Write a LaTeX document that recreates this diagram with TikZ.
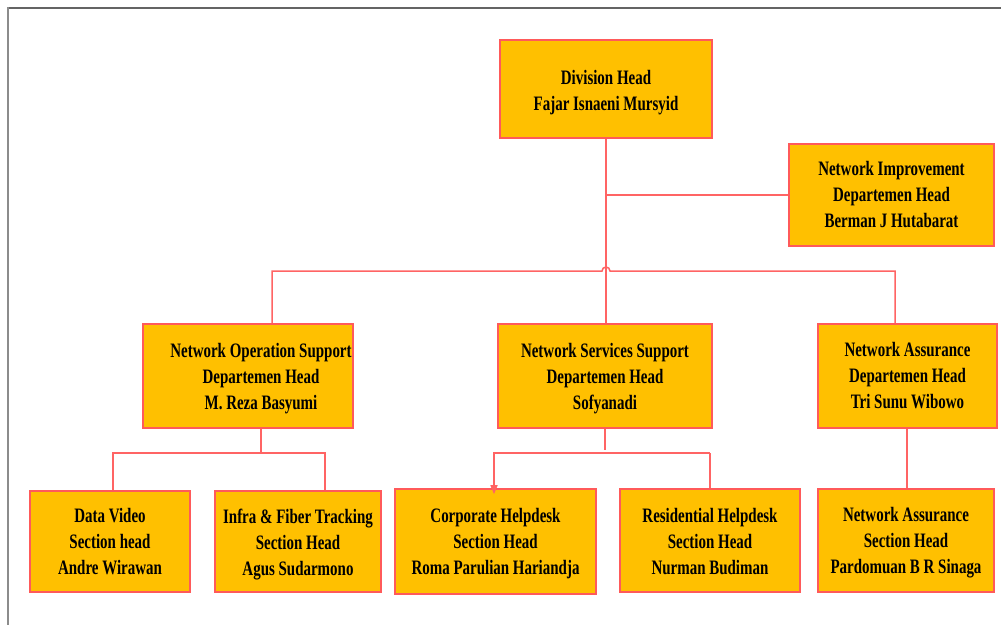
\documentclass[tikz,border=0pt]{standalone}
\usepackage{fontspec}
\setmainfont{Liberation Serif}[FakeStretch=0.73]
\usetikzlibrary{arrows.meta}
\definecolor{boxfill}{HTML}{FFC000}
\definecolor{boxline}{HTML}{FF5A5A}
\definecolor{linkline}{HTML}{FF6464}
\definecolor{frametop}{HTML}{646464}
\definecolor{frameleft}{HTML}{8C8C8C}

% centred lines of a card, lowered by #1 without changing the reported size
\newcommand{\cardtext}[2][0pt]{%
  \raisebox{-#1}[\height][\depth]{\begin{tabular}{@{}c@{}}#2\end{tabular}}}

\begin{document}
\begin{tikzpicture}[x=1pt,y=-1pt,
  unit/.style={draw=boxline, fill=boxfill, line width=1.6pt,
    inner sep=0pt, font=\fontsize{20.5}{26}\selectfont\bfseries},
  link/.style={draw=linkline, line width=1.5pt},
  tiplink/.style={link, -{Triangle[width=7pt,length=9pt]}, shorten >=-6pt},
]
\useasboundingbox (0,0) rectangle (1001,625);

% page frame
\draw[frametop, line width=2.2pt] (7,8) -- (1001,8);
\draw[frameleft, line width=1.6pt] (8,7) -- (8,625);

% junction points of the connectors
\coordinate (busL) at (272,271);
\coordinate (busR) at (895,271);
\coordinate (hopA) at (602,271);
\coordinate (nosJ) at (261,453);
\coordinate (dvJ) at (113,453);
\coordinate (ifJ) at (325,453);
\coordinate (nssJ) at (605,453);
\coordinate (cpJ) at (494,453);
\coordinate (rsJ) at (710,453);
\coordinate (naJ) at (907,453);

% boxes
\node[unit, minimum width=212pt, minimum height=98pt] (dh) at (606,89)
  {\cardtext[3pt]{Division Head\\Fajar Isnaeni Mursyid}};
\node[unit, minimum width=205pt, minimum height=102pt] (ni) at (891.5,195)
  {\cardtext[1.5pt]{Network Improvement\\Departemen Head\\Berman J Hutabarat}};
\node[unit, minimum width=210pt, minimum height=104pt] (nos) at (248,376)
  {\hspace*{26pt}\cardtext[2pt]{Network Operation Support\\Departemen Head\\M. Reza Basyumi}};
\node[unit, minimum width=214pt, minimum height=104pt] (nss) at (605,376)
  {\cardtext[2pt]{Network Services Support\\Departemen Head\\Sofyanadi}};
\node[unit, minimum width=179pt, minimum height=104pt] (na) at (907.5,376)
  {\cardtext[1.5pt]{Network Assurance\\Departemen Head\\Tri Sunu Wibowo}};
\node[unit, minimum width=160pt, minimum height=101pt] (dv) at (110,541.5)
  {\cardtext[2pt]{Data Video\\Section head\\Andre Wirawan}};
\node[unit, minimum width=166pt, minimum height=101pt] (if) at (298,541.5)
  {\cardtext[2.5pt]{Infra \& Fiber Tracking\\Section Head\\Agus Sudarmono}};
\node[unit, minimum width=201pt, minimum height=105pt] (cp) at (495.5,541.5)
  {\cardtext[2pt]{Corporate Helpdesk\\Section Head\\Roma Parulian Hariandja}};
\node[unit, minimum width=180pt, minimum height=103pt] (rs) at (710,540.5)
  {\cardtext[2.5pt]{Residential Helpdesk\\Section Head\\Nurman Budiman}};
\node[unit, minimum width=176pt, minimum height=103pt] (nas) at (906,540.5)
  {\cardtext[2pt]{Network Assurance\\Section Head\\Pardomuan B R Sinaga}};

% division head to department heads
\draw[link] (dh.south) -- (dh.south |- nss.north);
\draw[link] (dh.south |- ni.west) -- (ni.west);
\draw[link] (busL |- nos.north) -- (busL) -- (hopA)
  arc[start angle=180, end angle=360, radius=4] -- (busR) -- (busR |- na.north);

% network operation support
\draw[link] (nosJ |- nos.south) -- (nosJ);
\draw[link] (dvJ |- dv.north) -- (dvJ) -- (ifJ) -- (ifJ |- if.north);

% network services support
\draw[link] (nssJ |- nss.south) -- ([yshift=3pt]nssJ);
\draw[tiplink] (rsJ) -- (cpJ) -- (cpJ |- cp.north);
\draw[link] (rsJ) -- (rsJ |- rs.north);

% network assurance
\draw[link] (naJ |- na.south) -- (naJ |- nas.north);
\end{tikzpicture}
\end{document}
